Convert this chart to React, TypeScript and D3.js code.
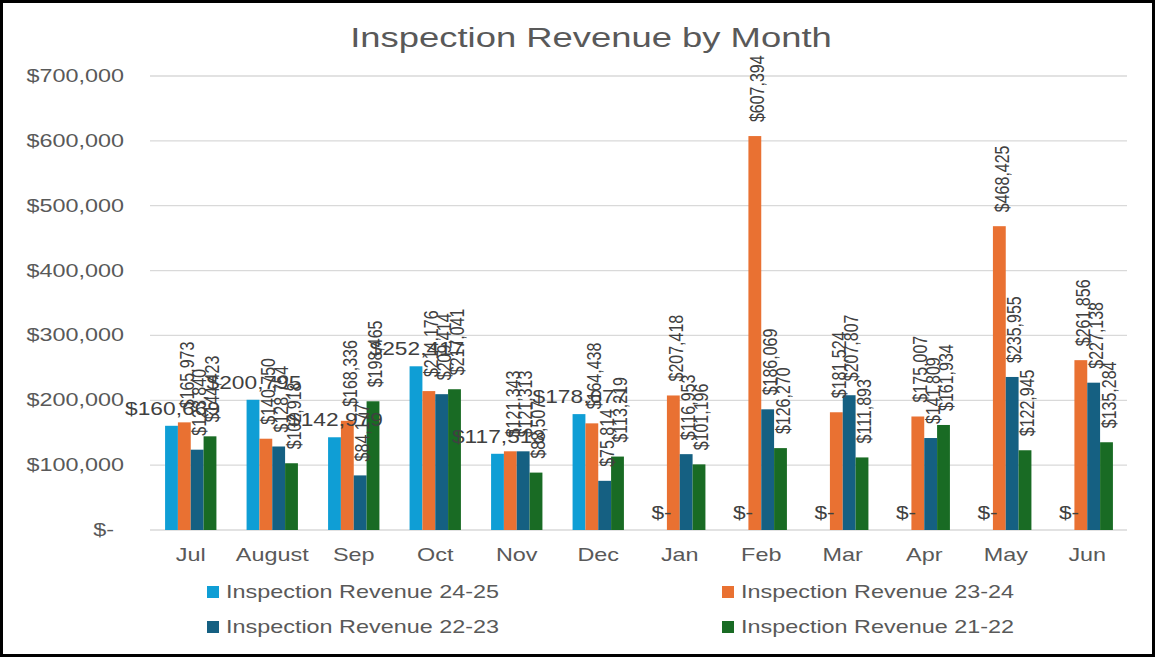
import React from "react";
import * as d3 from "d3";

const months = ["Jul", "August", "Sep", "Oct", "Nov", "Dec", "Jan", "Feb", "Mar", "Apr", "May", "Jun"];
const seriesNames = ["Inspection Revenue 24-25", "Inspection Revenue 23-24", "Inspection Revenue 22-23", "Inspection Revenue 21-22"];
const rev2425 = [160669, 200795, 142979, 252417, 117513, 178677, 0, 0, 0, 0, 0, 0];
const rev2324 = [165973, 140750, 168336, 214176, 121343, 164438, 207418, 607394, 181524, 175007, 468425, 261856];
const rev2223 = [123840, 128754, 84177, 209414, 121313, 75814, 116953, 186069, 207807, 141809, 235955, 227138];
const rev2122 = [144423, 102918, 198465, 217041, 88507, 113219, 101196, 126270, 111893, 161934, 122945, 135284];
const yTicks = [0, 100000, 200000, 300000, 400000, 500000, 600000, 700000];
const colors = ["#0F9ED5", "#E97132", "#156082", "#196B24"];

const seriesValues = [rev2425, rev2324, rev2223, rev2122];
const SX = 1.3;
const FONT = "'Liberation Sans', Arial, sans-serif";
const money = (v: number) => (v === 0 ? "$-" : d3.format("$,")(v));

export default function App() {
  const W = 1155, H = 657;
  const left = 150, right = 1128, top = 76, bottom = 530;
  const x = d3.scaleBand<string>().domain(months).range([left, right]).paddingInner(0.37).paddingOuter(0.185);
  const xs = d3.scaleBand<string>().domain(seriesNames).range([0, x.bandwidth()]);
  const y = d3.scaleLinear().domain([0, 700000]).range([bottom, top]);

  const legendPos = [
    { x: 207, y: 592 },
    { x: 722, y: 592 },
    { x: 207, y: 627 },
    { x: 722, y: 627 },
  ];

  return (
    <svg width={W} height={H} style={{ position: "absolute", left: 0, top: 0, background: "#fff" }} fontFamily={FONT}>
      <rect x={0} y={0} width={W} height={H} fill="#fff" />
      {/* title */}
      <text transform={`translate(591,47) scale(${SX},1)`} textAnchor="middle" fontSize={28} fill="#595959">
        Inspection Revenue by Month
      </text>
      {/* grid + y ticks */}
      {yTicks.map((t) => (
        <g key={t}>
          <line x1={left} x2={right - 1} y1={y(t)} y2={y(t)} stroke="#d9d9d9" strokeWidth={1.3} />
          <text
            transform={`translate(${t === 0 ? 114 : 124},${y(t) + 6}) scale(${SX},1)`}
            textAnchor="end"
            fontSize={18}
            fill="#595959"
          >
            {money(t)}
          </text>
        </g>
      ))}
      {/* bars */}
      {months.map((m, i) => (
        <g key={m}>
          {seriesNames.map((s, k) => {
            const v = seriesValues[k][i];
            const bx = (x(m) as number) + (xs(s) as number);
            const bw = xs.bandwidth();
            return (
              <rect key={s} x={bx} y={y(v)} width={bw} height={bottom - y(v)} fill={colors[k]} />
            );
          })}
        </g>
      ))}
      {/* labels */}
      {months.map((m, i) => (
        <g key={m + "l"}>
          {seriesNames.map((s, k) => {
            const v = seriesValues[k][i];
            const cx = (x(m) as number) + (xs(s) as number) + xs.bandwidth() / 2;
            if (k === 0) {
              return (
                <text
                  key={s}
                  transform={`translate(${cx + 1},${y(v) - 11}) scale(${SX},1)`}
                  textAnchor="middle"
                  fontSize={17.5}
                  fill="#404040"
                >
                  {money(v)}
                </text>
              );
            }
            return (
              <text
                key={s}
                transform={`translate(${cx + 2},${y(v) - 14}) scale(${SX},1) rotate(-90)`}
                textAnchor="start"
                dy="0.35em"
                fontSize={16}
                fill="#404040"
              >
                {money(v)}
              </text>
            );
          })}
        </g>
      ))}
      {/* x labels */}
      {months.map((m) => (
        <text
          key={m + "x"}
          transform={`translate(${(x(m) as number) + x.bandwidth() / 2},561) scale(${SX},1)`}
          textAnchor="middle"
          fontSize={18}
          fill="#595959"
        >
          {m}
        </text>
      ))}
      {/* legend */}
      {seriesNames.map((s, k) => (
        <g key={s + "lg"}>
          <rect x={legendPos[k].x} y={legendPos[k].y - 6} width={12} height={12} fill={colors[k]} />
          <text
            transform={`translate(${legendPos[k].x + 19},${legendPos[k].y + 6}) scale(${SX},1)`}
            fontSize={18}
            fill="#595959"
          >
            {s}
          </text>
        </g>
      ))}
      <rect x={1.5} y={1.5} width={W - 3} height={H - 3} fill="none" stroke="#000" strokeWidth={3} />
    </svg>
  );
}
